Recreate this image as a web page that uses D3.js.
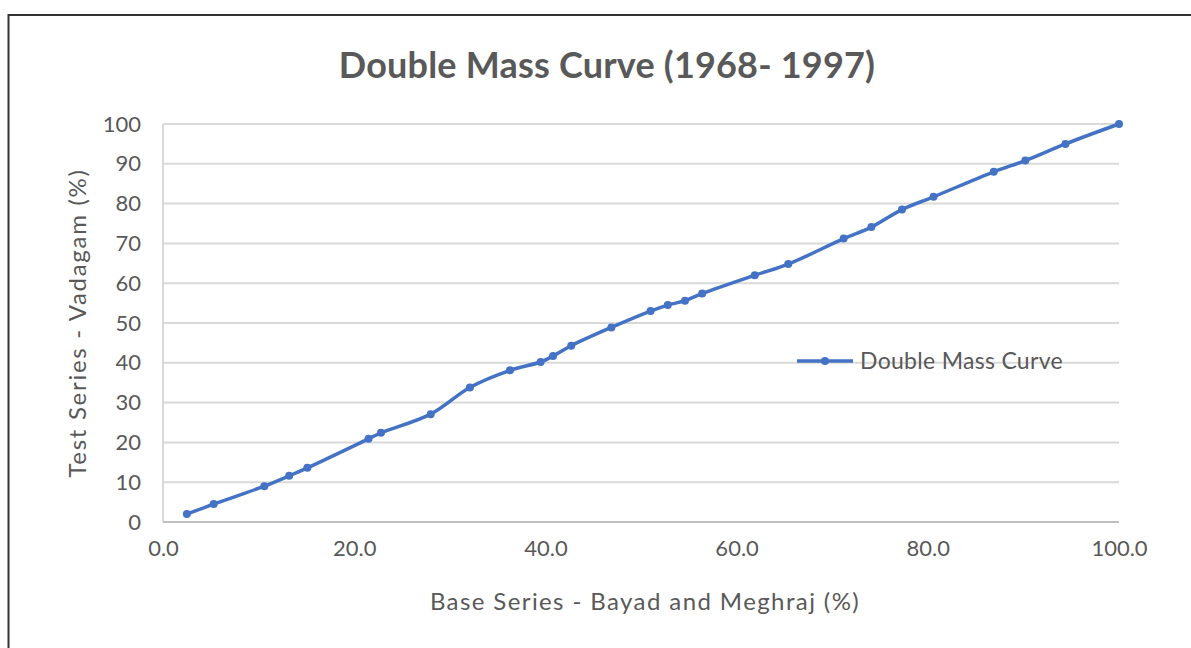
<!DOCTYPE html>
<html>
<head>
<meta charset="utf-8">
<script src="https://cdn.jsdelivr.net/npm/d3@7"></script>
<style>
  body { margin: 0; background: #fff; }
  text { font-family: Lato, "Open Sans", sans-serif; fill: #595959; }
</style>
</head>
<body>
<svg class="chart"></svg>
<script>
// Chart data (percent cumulative values)
const baseSeries = [2.5, 5.3, 10.6, 13.2, 15.1, 21.5, 22.8, 28.0, 32.1, 36.3, 39.5, 40.8, 42.7, 46.9, 51.0, 52.8, 54.6, 56.4, 61.9, 65.4, 71.2, 74.1, 77.3, 80.6, 86.9, 90.2, 94.4, 100.0];
const testSeries = [2.0, 4.5, 9.0, 11.6, 13.6, 20.9, 22.4, 27.1, 33.8, 38.1, 40.2, 41.7, 44.3, 48.9, 53.0, 54.5, 55.6, 57.4, 62.0, 64.8, 71.2, 74.1, 78.5, 81.7, 88.0, 90.8, 95.0, 100.0];
const xTicks = [0, 20, 40, 60, 80, 100];
const yTicks = [0, 10, 20, 30, 40, 50, 60, 70, 80, 90, 100];
const seriesName = "Double Mass Curve";

const width = 1191;
const height = 648;
const margin = { top: 124, right: 72, bottom: 126, left: 163 };

const svg = d3.select(".chart")
    .attr("width", width)
    .attr("height", height);

// Outer frame (only top and left edges are inside the picture)
svg.append("rect")
    .attr("x", 8.5)
    .attr("y", 15)
    .attr("width", width + 20)
    .attr("height", height + 20)
    .attr("fill", "none")
    .attr("stroke", "#333")
    .attr("stroke-width", 2);

const x = d3.scaleLinear()
    .domain([0, 100])
    .range([margin.left, width - margin.right]);

const y = d3.scaleLinear()
    .domain([0, 100])
    .range([height - margin.bottom, margin.top]);

// Horizontal gridlines
svg.append("g")
    .selectAll("line")
    .data(yTicks.filter(d => d > 0))
    .enter().append("line")
    .attr("x1", x(0))
    .attr("x2", x(100))
    .attr("y1", d => y(d))
    .attr("y2", d => y(d))
    .attr("stroke", "#d9d9d9")
    .attr("stroke-width", 2);

// Axis lines
svg.append("line")
    .attr("x1", x(0)).attr("x2", x(0))
    .attr("y1", y(0)).attr("y2", y(100))
    .attr("stroke", "#d9d9d9")
    .attr("stroke-width", 2);

svg.append("line")
    .attr("x1", x(0)).attr("x2", x(100))
    .attr("y1", y(0)).attr("y2", y(0))
    .attr("stroke", "#bfbfbf")
    .attr("stroke-width", 2);

// Tick labels via d3 axes, with the domain and tick lines hidden
const yAxis = svg.append("g")
    .attr("transform", `translate(${x(0)},0)`)
    .call(d3.axisLeft(y).tickValues(yTicks).tickSize(0).tickPadding(22));
yAxis.select(".domain").remove();
yAxis.selectAll("text")
    .style("font-family", "Lato, sans-serif")
    .style("font-size", "22px")
    .attr("fill", "#595959");

const xAxis = svg.append("g")
    .attr("transform", `translate(0,${y(0)})`)
    .call(d3.axisBottom(x).tickValues(xTicks).tickSize(0).tickPadding(18).tickFormat(d3.format(".1f")));
xAxis.select(".domain").remove();
xAxis.selectAll("text")
    .style("font-family", "Lato, sans-serif")
    .style("font-size", "22px")
    .attr("fill", "#595959");

// Title
svg.append("text")
    .attr("x", 607)
    .attr("y", 78)
    .attr("text-anchor", "middle")
    .style("font-size", "36px")
    .style("font-weight", "bold")
    .style("letter-spacing", "0.2px")
    .text("Double Mass Curve (1968- 1997)");

// Axis titles
svg.append("text")
    .attr("x", 645)
    .attr("y", 610)
    .attr("text-anchor", "middle")
    .style("font-size", "24px")
    .style("letter-spacing", "1.4px")
    .text("Base Series - Bayad and Meghraj (%)");

svg.append("text")
    .attr("transform", "translate(86,323) rotate(-90)")
    .attr("text-anchor", "middle")
    .style("font-size", "24px")
    .style("letter-spacing", "1.7px")
    .text("Test Series - Vadagam (%)");

// Series line, smoothed like the original
const points = baseSeries.map((b, i) => [b, testSeries[i]]);

const line = d3.line()
    .x(d => x(d[0]))
    .y(d => y(d[1]))
    .curve(d3.curveCatmullRom.alpha(0.5));

svg.append("path")
    .datum(points)
    .attr("d", line)
    .attr("fill", "none")
    .attr("stroke", "#4472c4")
    .attr("stroke-width", 3.5)
    .attr("stroke-linecap", "round");

svg.append("g")
    .selectAll("circle")
    .data(points)
    .enter().append("circle")
    .attr("cx", d => x(d[0]))
    .attr("cy", d => y(d[1]))
    .attr("r", 4)
    .attr("fill", "#4472c4");

// Legend
const legend = svg.append("g")
    .attr("transform", "translate(797,361)");

legend.append("line")
    .attr("x1", 0).attr("x2", 56)
    .attr("stroke", "#4472c4")
    .attr("stroke-width", 3.5);

legend.append("circle")
    .attr("cx", 28)
    .attr("r", 4)
    .attr("fill", "#4472c4");

legend.append("text")
    .attr("x", 63)
    .attr("y", 8)
    .style("font-size", "23px")
    .style("letter-spacing", "0.3px")
    .text(seriesName);
</script>
</body>
</html>
